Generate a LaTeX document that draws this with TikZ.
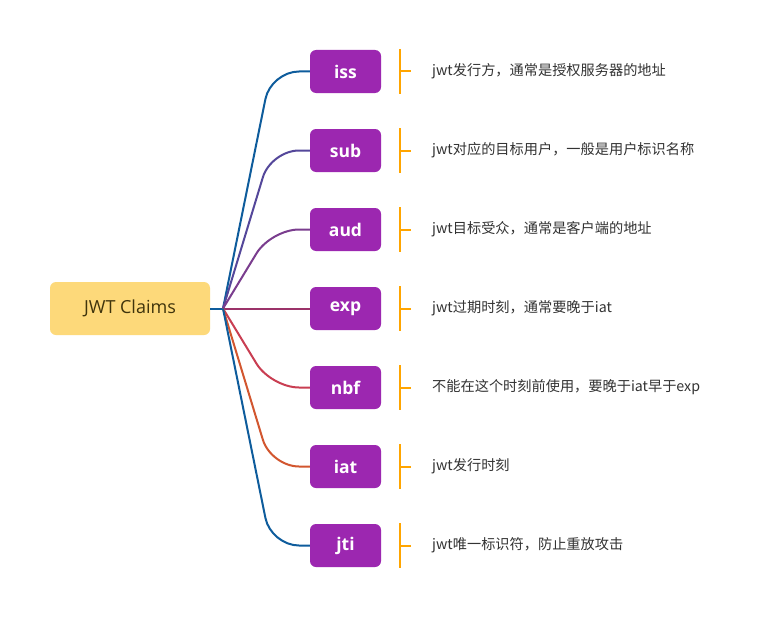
\documentclass[tikz,border=0pt]{standalone}
\usepackage{fontspec}
\setmainfont{Open Sans}
\newfontfamily\cjkf{Noto Sans CJK SC}
\usetikzlibrary{calc}
\definecolor{rootfill}{HTML}{FDD97A}
\definecolor{roottext}{HTML}{3F340C}
\definecolor{childfill}{HTML}{9C27B0}
\definecolor{brk}{HTML}{FFA500}
\definecolor{descText}{HTML}{333333}
\definecolor{cA}{HTML}{0E5C9C}
\definecolor{cB}{HTML}{54479A}
\definecolor{cC}{HTML}{7A3D8E}
\definecolor{cD}{HTML}{9B3369}
\definecolor{cE}{HTML}{C93E52}
\definecolor{cF}{HTML}{D2562F}
\tikzset{
  rootbox/.style={fill=rootfill, rounded corners=6pt, minimum width=160pt, minimum height=53pt, inner sep=0pt, text=roottext, font=\fontsize{18}{21}\selectfont},
  childbox/.style={fill=childfill, rounded corners=6pt, minimum width=71pt, minimum height=43pt, inner sep=0pt, text=white, font=\fontsize{17.5}{20}\selectfont\bfseries},
  link/.style={line width=2pt, rounded corners=28pt},
  bracket/.style={draw=brk, line width=2pt},
  desc/.style={anchor=west, inner sep=0pt, text=descText, font=\cjkf\fontsize{14.2}{16}\selectfont}
}
\begin{document}
\begin{tikzpicture}[x=1pt,y=-1pt]
\useasboundingbox[fill=white] (0,0) rectangle (760,618);
\node[rootbox] (root) at (130,308.5) {JWT Claims};
\coordinate (j) at (223,308.5);
\draw[link, cA] (root.east) -- (j);
\foreach \n/\y/\c/\t in {
  iss/71.5/cA/{jwt发行方，通常是授权服务器的地址},
  sub/150.5/cB/{jwt对应的目标用户，一般是用户标识名称},
  aud/229.5/cC/{jwt目标受众，通常是客户端的地址},
  exp/308.5/cD/{jwt过期时刻，通常要晚于iat},
  nbf/387.5/cE/{不能在这个时刻前使用，要晚于iat早于exp},
  iat/466.5/cF/{jwt发行时刻},
  jti/545.5/cA/{jwt唯一标识符，防止重放攻击}}{
  \node[childbox] (\n) at (345.5,\y) {\n};
  \coordinate (\n c) at (271,\y);
  \draw[link, \c] (j) -- (\n c) -- (\n.west);
  \coordinate (\n d) at (400,\y);
  \draw[bracket] ($(\n d)+(0,-22.5)$) -- ($(\n d)+(0,22.5)$) (\n d) -- ++(11,0);
  \node[desc] (\n t) at (432,\y) {\t};
}
\end{tikzpicture}
\end{document}
